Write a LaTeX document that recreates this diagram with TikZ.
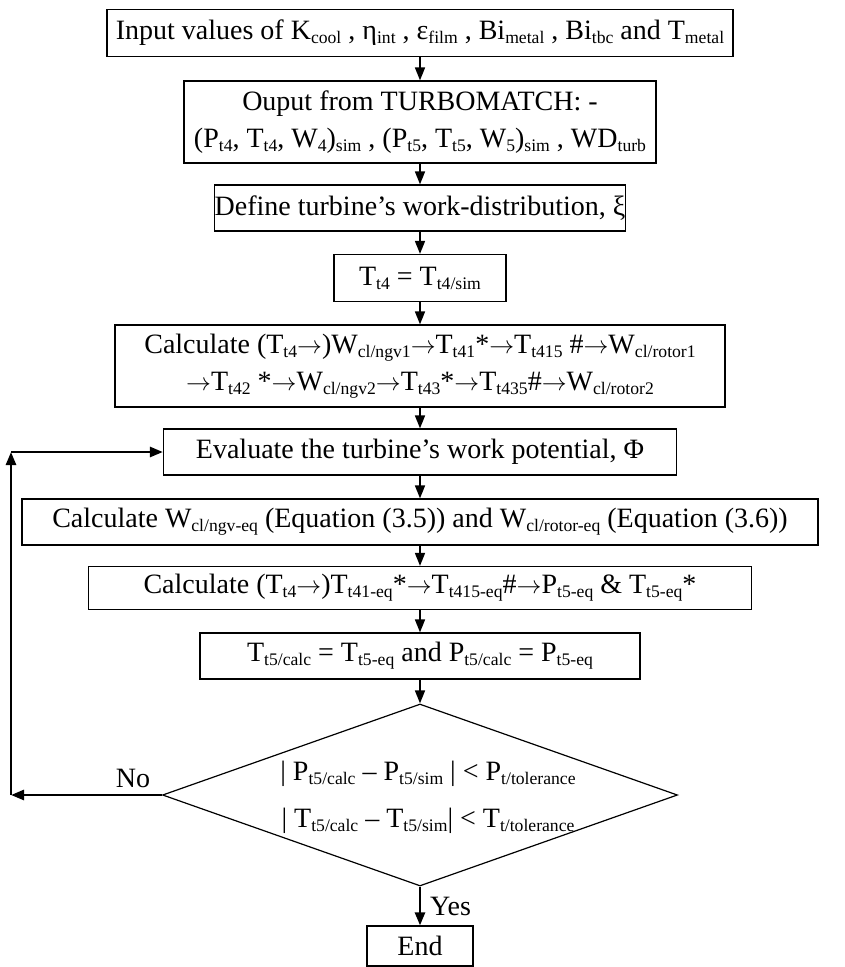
\documentclass[tikz,border=0pt]{standalone}
\usepackage{fontspec}
\setmainfont{Liberation Serif}
\usetikzlibrary{arrows.meta,shapes.geometric}
\newcommand{\lo}[1]{\raisebox{-0.14em}{\scalebox{0.63}{#1}}}
\newcommand{\ra}{\ensuremath{\rightarrow}}
\begin{document}
\begin{tikzpicture}[x=1pt,y=-1pt,
  txt/.style={inner sep=0pt, align=center, font=\fontsize{28}{37}\selectfont},
  box/.style={txt, draw, line width=1.2pt},
  arr/.style={line width=1.5pt, -{Triangle[length=13pt,width=10pt]}},
  loopst/.style={line width=2.6pt, -{Triangle[length=13pt,width=10pt]}}]
\useasboundingbox (0,0) rectangle (844,967);
\def\cx{420}
\node[box, minimum width=626, minimum height=47] (b1) at (\cx,33)
  {Input values of K\lo{cool} , η\lo{int} , ε\lo{film} , Bi\lo{metal} , Bi\lo{tbc} and T\lo{metal}};
\node[box, minimum width=472, minimum height=82] (b2) at (\cx,122)
  {Ouput from TURBOMATCH: -\\(P\lo{t4}, T\lo{t4}, W\lo{4})\lo{sim} , (P\lo{t5}, T\lo{t5}, W\lo{5})\lo{sim} , WD\lo{turb}};
\node[box, minimum width=404, minimum height=46] (b3) at (\cx,208)
  {Define turbine’s work-distribution, ξ};
\node[box, minimum width=172, minimum height=47] (b4) at (\cx,278)
  {T\lo{t4} = T\lo{t4/sim}};
\node[box, minimum width=610, minimum height=82] (b5) at (\cx,366)
  {Calculate (T\lo{t4}\ra)W\lo{cl/ngv1}\ra T\lo{t41}*\ra T\lo{t415} \#\ra W\lo{cl/rotor1}\\\ra T\lo{t42} *\ra W\lo{cl/ngv2}\ra T\lo{t43}*\ra T\lo{t435}\#\ra W\lo{cl/rotor2}};
\node[box, minimum width=513, minimum height=46] (b6) at (\cx,452)
  {Evaluate the turbine’s work potential, Φ};
\node[box, minimum width=796, minimum height=46] (b7) at (\cx,522)
  {Calculate W\lo{cl/ngv-eq} (Equation (3.5)) and W\lo{cl/rotor-eq} (Equation (3.6))};
\node[box, minimum width=663, minimum height=43] (b8) at (\cx,588)
  {Calculate (T\lo{t4}\ra)T\lo{t41-eq}*\ra T\lo{t415-eq}\#\ra P\lo{t5-eq} \& T\lo{t5-eq}*};
\node[box, minimum width=440, minimum height=46] (b9) at (\cx,656)
  {T\lo{t5/calc} = T\lo{t5-eq} and P\lo{t5/calc} = P\lo{t5-eq}};
\node[draw, diamond, line width=1.2pt, inner sep=0pt, minimum width=515, minimum height=182] (d) at (\cx,795) {};
\node[txt, font=\fontsize{28}{47}\selectfont] (dt) at (\cx+8,797)
  {| P\lo{t5/calc} – P\lo{t5/sim} | < P\lo{t/tolerance}\\| T\lo{t5/calc} – T\lo{t5/sim}| < T\lo{t/tolerance}};
\node[box, minimum width=106, minimum height=40] (end) at (\cx,946) {End};
\node[txt] (no) at (133,778) {No};
\node[txt, anchor=west] (yes) at (\cx+10,906) {Yes};
\coordinate (c1) at (11,795);
\coordinate (c2) at (11,452);
\draw[arr] (b1.south) -- (b2.north);
\draw[arr] (b2.south) -- (b3.north);
\draw[arr] (b3.south) -- (b4.north);
\draw[arr] (b4.south) -- (b5.north);
\draw[arr] (b5.south) -- (b6.north);
\draw[arr] (b6.south) -- (b7.north);
\draw[arr] (b7.south) -- (b8.north);
\draw[arr] (b8.south) -- (b9.north);
\draw[arr] (b9.south) -- (d.north);
\draw[loopst] (d.south) -- (end.north);
\draw[loopst] (d.west) -- (c1);
\draw[loopst] (c1) -- (c2);
\draw[loopst] (c2) -- (b6.west);
\end{tikzpicture}
\end{document}
